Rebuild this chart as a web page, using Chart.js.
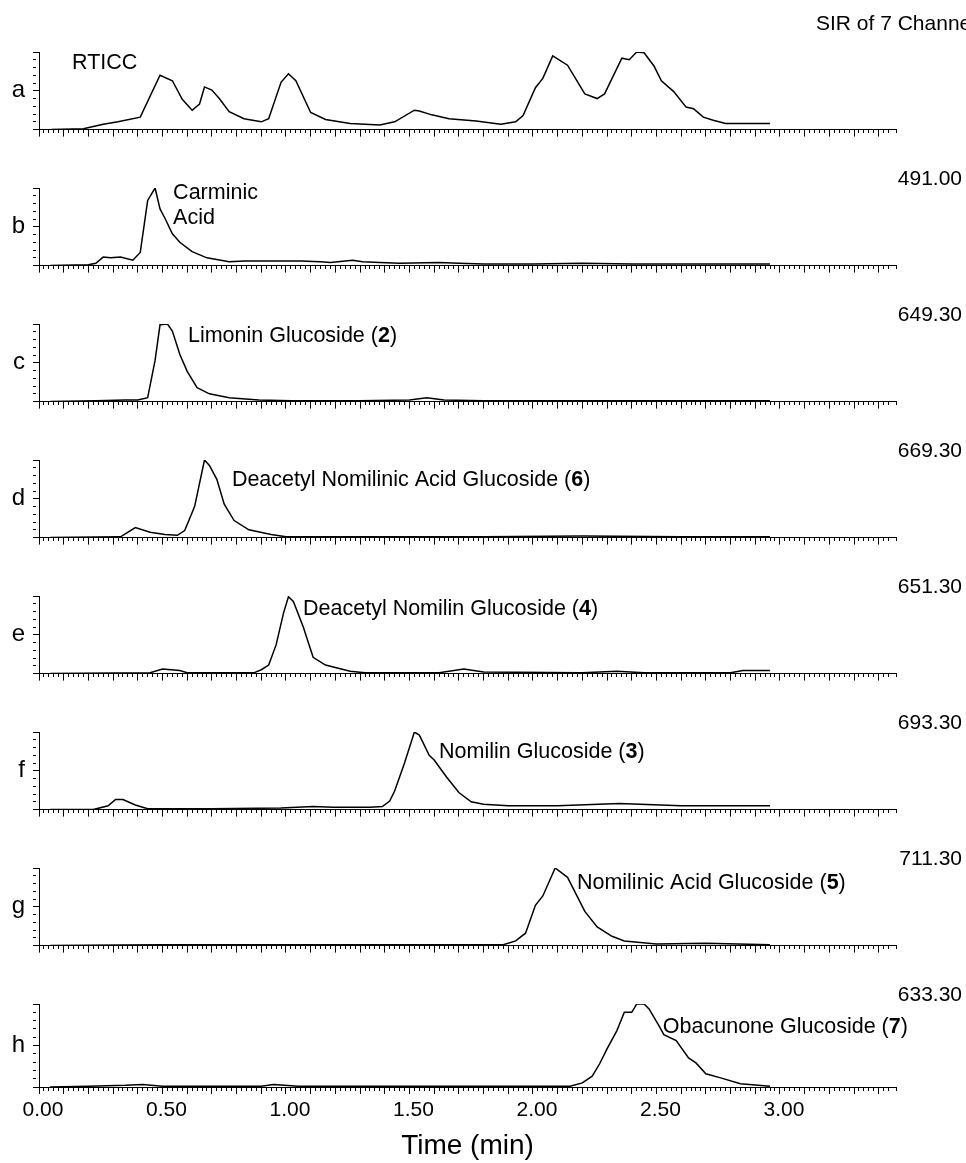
<!DOCTYPE html>
<html>
<head>
<meta charset="utf-8">
<script src="https://cdn.jsdelivr.net/npm/chart.js@4.4.1/dist/chart.umd.min.js"></script>
<style>
  body { margin: 0; background: #fff; }
  #wrap { position: relative; width: 966px; height: 1163px; overflow: hidden; }
  #wrap canvas { position: absolute; left: 0; }
</style>
</head>
<body>
<div id="wrap"></div>
<script>
// retention time (min) and relative intensity (%)
const timeA = [0.05,0.18,0.26,0.32,0.41,0.49,0.54,0.58,0.62,0.65,0.67,0.70,0.73,0.77,0.83,0.90,0.93,0.98,1.01,1.04,1.10,1.16,1.26,1.38,1.44,1.52,1.54,1.59,1.66,1.77,1.87,1.93,1.96,2.01,2.04,2.08,2.14,2.21,2.26,2.29,2.36,2.39,2.42,2.45,2.49,2.52,2.57,2.62,2.65,2.69,2.73,2.78,2.96];
const sigA  = [0,1,7,10,16,70,63,39,25,33,55,51,40,23,14,10,14,61,72,63,22,13,8,6,10,25,24,19,14,11,7,10,18,54,66,95,83,46,40,46,92,90,100,99,82,63,49,29,27,16,12,8,8];

const timeB = [0.045,0.20,0.23,0.26,0.29,0.33,0.38,0.41,0.44,0.47,0.49,0.51,0.54,0.57,0.62,0.68,0.77,0.83,0.95,1.06,1.14,1.18,1.27,1.31,1.38,1.46,1.62,1.70,1.80,2.00,2.20,2.40,2.60,2.80,2.96];
const sigB  = [0,1,3,11,10,11,7,17,84,100,73,61,41,30,18,10,5,6,6,6,5,4,7,5,4,3,4,3,2,2,3,2,2,2,2];

const timeC = [0.045,0.23,0.35,0.40,0.44,0.47,0.49,0.52,0.54,0.57,0.60,0.64,0.69,0.77,0.89,1.02,1.30,1.50,1.57,1.64,1.80,2.20,2.60,2.96];
const sigC  = [0,1,2,2,5,53,99,100,91,61,39,18,10,5,2,1,1,2,5,2,1,1,1,1];

const timeD = [0.045,0.33,0.39,0.45,0.51,0.56,0.59,0.63,0.67,0.69,0.72,0.75,0.79,0.85,0.94,1.00,1.40,1.80,2.20,2.60,2.96];
const sigD  = [0,1,13,7,4,3,9,40,100,93,75,43,22,10,4,1,1,1,2,1,1];

const timeE = [0.045,0.45,0.50,0.57,0.60,0.87,0.90,0.93,0.96,0.99,1.01,1.03,1.07,1.11,1.16,1.26,1.32,1.62,1.72,1.80,2.20,2.34,2.45,2.80,2.85,2.96];
const sigE  = [0,1,6,4,1,1,5,11,37,78,99,93,60,21,11,3,1,1,6,2,1,3,1,1,4,4];

const timeF = [0.045,0.22,0.28,0.31,0.34,0.39,0.44,0.70,0.98,1.11,1.19,1.34,1.39,1.42,1.44,1.48,1.52,1.54,1.58,1.60,1.65,1.70,1.75,1.80,1.90,2.10,2.35,2.60,2.96];
const sigF  = [0,0,5,13,13,6,1,1,2,4,3,3,4,11,24,60,100,96,70,64,42,22,10,7,5,5,8,5,5];

const timeG = [0.045,0.50,1.00,1.50,1.88,1.93,1.97,2.01,2.04,2.09,2.14,2.21,2.26,2.32,2.37,2.50,2.70,2.96];
const sigG  = [0,1,1,1,1,6,16,52,64,100,88,44,24,12,6,2,3,1];

const timeH = [0.045,0.20,0.35,0.42,0.50,0.90,0.95,1.05,1.40,1.80,2.15,2.20,2.24,2.27,2.30,2.34,2.37,2.40,2.42,2.45,2.47,2.51,2.53,2.58,2.63,2.66,2.70,2.76,2.84,2.96];
const sigH  = [0,1,2,3,1,1,3,1,1,1,1,5,13,28,46,68,90,90,100,100,94,74,63,56,35,29,16,11,4,1];

const panelLetters = ['a','b','c','d','e','f','g','h'];
const channels = ['', '491.00', '649.30', '669.30', '651.30', '693.30', '711.30', '633.30'];
const timeTicks = ['0.00','0.50','1.00','1.50','2.00','2.50','3.00'];

const panels = [
  {time: timeA, sig: sigA, notes: [{text: 'RTICC', t: 0.134, level: 78}]},
  {time: timeB, sig: sigB, notes: [{text: 'Carminic', t: 0.543, level: 86}, {text: 'Acid', t: 0.543, level: 54}]},
  {time: timeC, sig: sigC, notes: [{text: 'Limonin Glucoside (2)', t: 0.603, level: 77}]},
  {time: timeD, sig: sigD, notes: [{text: 'Deacetyl Nomilinic Acid Glucoside (6)', t: 0.781, level: 66}]},
  {time: timeE, sig: sigE, notes: [{text: 'Deacetyl Nomilin Glucoside (4)', t: 1.069, level: 75}]},
  {time: timeF, sig: sigF, notes: [{text: 'Nomilin Glucoside (3)', t: 1.62, level: 67}]},
  {time: timeG, sig: sigG, notes: [{text: 'Nomilinic Acid Glucoside (5)', t: 2.178, level: 73}]},
  {time: timeH, sig: sigH, notes: [{text: 'Obacunone Glucoside (7)', t: 2.526, level: 65}]}
];

const FONT = '"Liberation Sans", Arial, sans-serif';
Chart.defaults.font.family = FONT;
Chart.defaults.color = '#000';

const W = 966, STEP = 136, TOP = 52, BOTTOM = 135, LEFT = 39, RIGHT = 896;

const textPlugin = {
  id: 'panelText',
  afterDraw(chart, args, opts) {
    const {ctx, chartArea, scales: {x, y}} = chart;
    ctx.save();
    ctx.fillStyle = '#000';
    ctx.textBaseline = 'alphabetic';
    if (opts.header) {
      ctx.font = '21px ' + FONT;
      ctx.textAlign = 'left';
      ctx.fillText(opts.header, 816, chartArea.top - 22);
    }
    if (opts.channel) {
      ctx.font = '21px ' + FONT;
      ctx.textAlign = 'right';
      ctx.fillText(opts.channel, 962, chartArea.top - 3);
    }
    ctx.textAlign = 'left';
    opts.notes.forEach(n => {
      let px = x.getPixelForValue(n.t);
      const py = y.getPixelForValue(n.level);
      const m = n.text.match(/^(.*\()(\d+)(\))$/);
      const parts = m ? [[m[1], ''], [m[2], 'bold '], [m[3], '']] : [[n.text, '']];
      parts.forEach(([s, w]) => {
        ctx.font = w + '21.5px ' + FONT;
        ctx.fillText(s, px, py);
        px += ctx.measureText(s).width;
      });
    });
    ctx.restore();
  }
};

const wrap = document.getElementById('wrap');

panels.forEach((p, i) => {
  const last = i === panels.length - 1;
  const top = i * STEP;
  const h = last ? 1163 - top : 152;
  const canvas = document.createElement('canvas');
  canvas.width = W;
  canvas.height = h;
  canvas.style.top = top + 'px';
  wrap.appendChild(canvas);

  new Chart(canvas.getContext('2d'), {
    type: 'line',
    data: {
      datasets: [{
        data: p.time.map((t, k) => ({x: t, y: p.sig[k]})),
        borderColor: '#000',
        borderWidth: 1.5,
        pointRadius: 0,
        tension: 0,
        fill: false
      }]
    },
    options: {
      responsive: false,
      animation: false,
      devicePixelRatio: 1,
      layout: {padding: {top: TOP, right: W - RIGHT, left: 0, bottom: 0}},
      plugins: {
        legend: {display: false},
        tooltip: {enabled: false},
        panelText: {header: i === 0 ? 'SIR of 7 Channels' : '', channel: channels[i], notes: p.notes}
      },
      scales: {
        x: {
          type: 'linear',
          min: 0,
          max: 3.47,
          afterFit: s => { s.height = h - BOTTOM; },
          border: {display: true, color: '#000', width: 1},
          grid: {
            drawOnChartArea: false,
            tickLength: 7,
            tickColor: '#000',
            tickWidth: 1,
            tickBorderDash: c => (Math.round(c.tick.value * 100) % 10 === 0 ? [] : [3, 20])
          },
          ticks: {
            display: last,
            stepSize: 0.02,
            autoSkip: false,
            maxRotation: 0,
            minRotation: 0,
            padding: 4,
            labelOffset: 4,
            font: {size: 21},
            callback: v => {
              const lbl = Number(v).toFixed(2);
              return timeTicks.includes(lbl) ? lbl : '';
            }
          },
          title: {display: last, text: 'Time (min)', font: {size: 28}, padding: {top: 0, bottom: 0}}
        },
        y: {
          min: 0,
          max: 100,
          afterFit: s => { s.width = LEFT; },
          border: {display: true, color: '#000', width: 1},
          grid: {
            drawOnChartArea: false,
            tickLength: 6,
            tickColor: '#000',
            tickWidth: 1,
            tickBorderDash: c => (c.tick.value % 50 === 0 ? [] : [3, 20])
          },
          ticks: {
            stepSize: 10,
            autoSkip: false,
            padding: 8,
            font: {size: 24},
            callback: v => (v === 50 ? panelLetters[i] : '')
          }
        }
      }
    },
    plugins: [textPlugin]
  });
});
</script>
</body>
</html>
